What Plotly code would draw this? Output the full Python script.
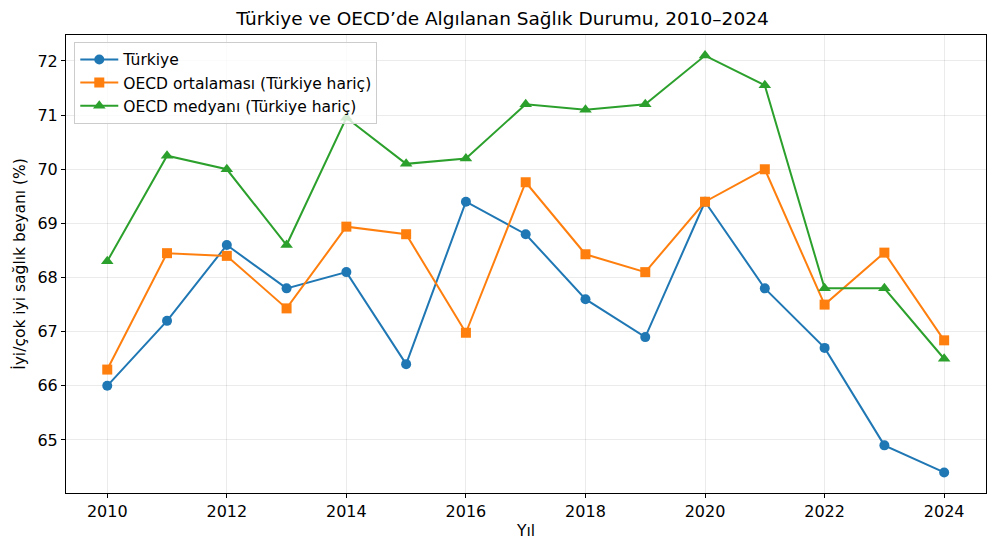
import plotly.graph_objects as go

years = list(range(2010, 2025))
turkiye = [66.0, 67.2, 68.6, 67.8, 68.1, 66.4, 69.4, 68.8, 67.6, 66.9, 69.4, 67.8, 66.7, 64.9, 64.4]
oecd_avg = [66.3, 68.45, 68.4, 67.43, 68.94, 68.8, 66.98, 69.76, 68.43, 68.1, 69.4, 70.0, 67.5, 68.46, 66.84]
oecd_med = [68.3, 70.25, 70.0, 68.6, 70.95, 70.1, 70.2, 71.2, 71.1, 71.2, 72.1, 71.55, 67.8, 67.8, 66.5]

names = ["Türkiye", "OECD ortalaması (Türkiye hariç)", "OECD medyanı (Türkiye hariç)"]
colors = ["#1f77b4", "#ff7f0e", "#2ca02c"]
symbols = ["circle", "square", "triangle-up"]
sizes = [10, 10, 11]

fig = go.Figure()
for ys, n, c, s, sz in zip([turkiye, oecd_avg, oecd_med], names, colors, symbols, sizes):
    fig.add_trace(go.Scatter(x=years, y=ys, name=n, mode="lines+markers",
                             line=dict(color=c, width=2),
                             marker=dict(symbol=s, size=sz, color=c)))

# page body has an 8px margin, so figure is sized/positioned to compensate
fig.update_layout(
    width=989, height=541,
    paper_bgcolor="white", plot_bgcolor="white",
    margin=dict(l=58, r=11, t=27, b=56),
    font=dict(family="DejaVu Sans", size=14.5, color="black"),
    title=dict(text="Türkiye ve OECD’de Algılanan Sağlık Durumu, 2010–2024",
               x=0.5, xanchor="center", y=1 - 11 / 541, yanchor="middle",
               font=dict(size=18.5)),
    legend=dict(x=0.009, y=0.985, xanchor="left", yanchor="top",
                bgcolor="rgba(255,255,255,0.8)", bordercolor="#cccccc", borderwidth=1,
                font=dict(size=15.5), itemwidth=38),
    showlegend=True,
)
fig.update_xaxes(range=[2009.31, 2024.70], tickmode="array", tickvals=list(range(2010, 2025, 2)),
                 showgrid=True, gridcolor="rgba(0,0,0,0.08)", gridwidth=1,
                 showline=True, linecolor="black", linewidth=1, mirror=True,
                 ticks="outside", ticklen=4, tickcolor="black", tickfont=dict(size=16),
                 title=dict(text="Yıl", font=dict(size=15.5), standoff=4), zeroline=False)
fig.update_yaxes(range=[64.02, 72.48], tickmode="array", tickvals=list(range(65, 73)),
                 showgrid=True, gridcolor="rgba(0,0,0,0.08)", gridwidth=1,
                 showline=True, linecolor="black", linewidth=1, mirror=True,
                 ticks="outside", ticklen=4, tickcolor="black", tickfont=dict(size=16),
                 title=dict(text="İyi/çok iyi sağlık beyanı (%)", font=dict(size=15.5), standoff=8),
                 zeroline=False)

fig.write_html("out.html")
